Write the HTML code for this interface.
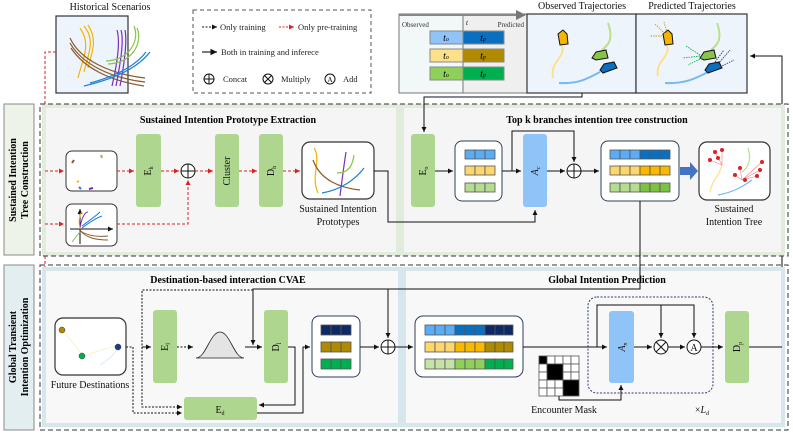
<!DOCTYPE html>
<html><head><meta charset="utf-8"><style>
html,body{margin:0;padding:0;background:#fff;}
svg{display:block;font-family:"Liberation Serif",serif;}
.t{font-size:10px;fill:#111;}
.b{font-weight:bold;font-size:10px;}
.s{font-size:8.5px;fill:#222;}
</style></head><body>
<svg width="793" height="435" viewBox="0 0 793 435" xmlns="http://www.w3.org/2000/svg">
<defs>
<marker id="a" markerWidth="6" markerHeight="6" refX="5" refY="3" orient="auto"><path d="M0,0.5 L5,3 L0,5.5z" fill="#111"/></marker>
<marker id="r" markerWidth="6" markerHeight="6" refX="5" refY="3" orient="auto"><path d="M0,0.5 L5,3 L0,5.5z" fill="#e02020"/></marker>
<marker id="g" markerWidth="6" markerHeight="6" refX="3" refY="3" orient="auto"><path d="M0,0.5 L5,3 L0,5.5z" fill="#777"/></marker>
</defs>

<!-- Historical Scenarios -->
<text x="110" y="10" class="t" text-anchor="middle">Historical Scenarios</text>
<rect x="56" y="16" width="72" height="77" fill="#eef4fc" stroke="#333" stroke-width="1.2"/>
<g fill="none" stroke-width="1.2">
<path d="M78,78 C82,60 92,45 80,28" stroke="#f4b400"/><path d="M84,72 C88,55 96,40 84,26" stroke="#f4b400"/><path d="M88,68 C92,52 98,40 88,25" stroke="#f4b400"/>
<path d="M70,38 C80,60 110,74 145,78" stroke="#8a5a2b"/><path d="M70,43 C82,64 110,78 145,82" stroke="#8a5a2b"/><path d="M71,48 C84,68 110,81 144,86" stroke="#8a5a2b"/>
<path d="M112,86 C118,60 120,40 117,30" stroke="#7b2fbf"/><path d="M116,86 C121,60 124,40 121,30" stroke="#7b2fbf"/><path d="M120,86 C125,60 127,40 125,30" stroke="#7b2fbf"/>
<path d="M134,26 C140,40 130,60 106,61" stroke="#8bc34a"/><path d="M137,28 C143,42 133,63 108,64" stroke="#8bc34a"/>
<path d="M84,86 C110,80 136,70 150,52" stroke="#1e7fd6"/><path d="M90,83 C112,77 134,68 146,52" stroke="#1e7fd6"/>
</g>
<path d="M56,52 H45 V346 H52" fill="none" stroke="#e02020" stroke-dasharray="3,2" marker-end="url(#r)"/>

<!-- Legend -->
<rect x="193" y="10" width="178" height="83" fill="#fff" stroke="#555" stroke-dasharray="4,3"/>
<line x1="202" y1="27" x2="217" y2="27" stroke="#111" stroke-dasharray="2,1.5" marker-end="url(#a)"/>
<text x="220" y="30" class="s">Only training</text>
<line x1="279" y1="27" x2="294" y2="27" stroke="#e02020" stroke-dasharray="2,1.5" marker-end="url(#r)"/>
<text x="298" y="30" class="s">Only pre-training</text>
<line x1="202" y1="52" x2="217" y2="52" stroke="#333" stroke-width="1.3" marker-end="url(#a)"/>
<text x="221" y="55" class="s">Both in training and inferece</text>
<g fill="none" stroke="#111"><circle cx="209" cy="79" r="5"/><path d="M204,79h10M209,74v10"/>
<circle cx="268" cy="79" r="5"/><path d="M264.5,75.5l7,7M271.5,75.5l-7,7"/><circle cx="330" cy="79" r="5"/></g>
<text x="330" y="82" font-size="7" text-anchor="middle">A</text>
<text x="223" y="82" class="s">Concat</text><text x="281" y="82" class="s">Multiply</text><text x="343" y="82" class="s">Add</text>

<!-- timeline -->
<rect x="399" y="14" width="64" height="79" fill="#f2f7f7" stroke="#777"/>
<rect x="463" y="14" width="64" height="79" fill="#efefef" stroke="#777"/>
<line x1="399" y1="15" x2="522" y2="15" stroke="#888" stroke-width="2" marker-end="url(#g)"/>
<text x="402" y="27" font-size="7" fill="#333">Observed</text><text x="466" y="25" font-size="7" font-style="italic">t</text><text x="524" y="27" font-size="7" text-anchor="end" fill="#333">Predicted</text>
<g stroke="#888">
<rect x="430" y="31" width="33" height="13" fill="#90c4f8"/><rect x="463" y="31" width="41" height="13" fill="#0b6fc0"/>
<rect x="430" y="49" width="33" height="13" fill="#fde08a"/><rect x="463" y="49" width="41" height="13" fill="#b08a00"/>
<rect x="430" y="67" width="33" height="13" fill="#8fd05a"/><rect x="463" y="67" width="41" height="13" fill="#00b050"/>
</g>
<g font-size="10" font-style="italic" text-anchor="middle"><text x="446" y="41">t<tspan font-size="6">o</tspan></text><text x="483" y="41">t<tspan font-size="6">p</tspan></text><text x="446" y="59">t<tspan font-size="6">o</tspan></text><text x="483" y="59">t<tspan font-size="6">p</tspan></text><text x="446" y="77">t<tspan font-size="6">o</tspan></text><text x="483" y="77">t<tspan font-size="6">p</tspan></text></g>

<!-- Observed / Predicted -->
<text x="582" y="9" class="t" text-anchor="middle">Observed Trajectories</text>
<text x="692" y="9" class="t" text-anchor="middle">Predicted Trajectories</text>
<rect x="527" y="14" width="109" height="79" fill="#eef4fc" stroke="#333" stroke-width="1.2"/>
<rect x="636" y="14" width="111" height="79" fill="#eef4fc" stroke="#333" stroke-width="1.2"/>
<g fill="none" stroke-width="2">
<path d="M553,78 C550,60 566,58 562,45" stroke="#fde08a"/><path d="M608,23 C614,40 608,45 602,50" stroke="#b9e08a"/><path d="M559,83 C580,84 588,78 600,72" stroke="#74b9f5"/>
<path d="M658,76 C655,60 671,58 667,45" stroke="#fde08a"/><path d="M717,23 C723,40 717,45 711,50" stroke="#b9e08a"/><path d="M665,83 C686,84 696,78 708,72" stroke="#74b9f5"/>
</g>
<g stroke="#111" stroke-width="1">
<path d="M558,34 l5,-4 l4,4 l1,10 l-8,1z" fill="#f4b400"/><path d="M592,58 l4,-6 l10,-2 l2,8 l-12,2z" fill="#8bc34a"/><path d="M600,70 l4,-6 l10,-2 l3,6 l-14,5z" fill="#0b6fc0"/>
<path d="M663,34 l5,-4 l4,4 l1,10 l-8,1z" fill="#f4b400"/><path d="M700,58 l4,-6 l10,-2 l2,8 l-12,2z" fill="#8bc34a"/><path d="M705,70 l4,-6 l10,-2 l3,6 l-14,5z" fill="#0b6fc0"/>
</g>
<g fill="none" stroke-dasharray="1.5,1" stroke-width="0.9">
<path d="M665,34 L655,24 M667,33 L664,22 M662,36 L650,36" stroke="#c8961e"/>
<path d="M700,55 L686,46 M700,56 L683,58 M702,58 L688,65" stroke="#00b050"/>
<path d="M715,62 L724,50 M718,64 L730,50 M720,67 L734,60" stroke="#1e3a8a"/>
</g>
<path d="M782,346 V56 H750" fill="none" stroke="#111" marker-end="url(#a)"/>

<!-- Section 1 -->
<rect x="4" y="104" width="30" height="151" fill="#eef3ea" stroke="#888"/>
<text transform="translate(16,180) rotate(-90)" class="b" text-anchor="middle">Sustained Intention</text>
<text transform="translate(28,180) rotate(-90)" class="b" text-anchor="middle">Tree Construction</text>
<rect x="44" y="106" width="354" height="148" fill="#f5f5f5" stroke="#e2ecdc" stroke-width="4"/>
<rect x="402" y="106" width="381" height="148" fill="#f5f5f5" stroke="#e2ecdc" stroke-width="4"/>
<rect x="40" y="104" width="748" height="152" fill="none" stroke="#333" stroke-dasharray="5,3"/>
<text x="228" y="123" class="b" text-anchor="middle">Sustained Intention Prototype Extraction</text>
<text x="597" y="123" class="b" text-anchor="middle">Top k branches intention tree construction</text>

<rect x="66" y="151" width="51" height="40" rx="6" fill="#fff" stroke="#333"/>
<g stroke-width="2" fill="none"><path d="M72,163 l2,-3" stroke="#8a5a2b"/><path d="M101,155 l1,3" stroke="#8bc34a"/><path d="M77,182 l2,-1" stroke="#f4b400"/><path d="M79,187 l2,2" stroke="#1e7fd6"/><path d="M89,189 l4,-1" stroke="#7b2fbf"/></g>
<rect x="66" y="204" width="51" height="42" rx="6" fill="#fff" stroke="#333"/>
<g fill="none" stroke-width="1"><path d="M80,244 V209" stroke="#111" marker-end="url(#a)"/><path d="M70,229 H113" stroke="#111" marker-end="url(#a)"/>
<path d="M80,228 C82,215 86,212 88,212" stroke="#7b2fbf"/><path d="M80,229 C78,220 80,214 82,212" stroke="#f4b400"/><path d="M82,228 C90,222 96,218 102,216" stroke="#1e7fd6"/><path d="M82,226 C90,220 96,216 100,212" stroke="#1e7fd6"/><path d="M80,230 C86,238 96,240 108,240" stroke="#8a5a2b"/><path d="M80,231 C88,236 98,237 108,236" stroke="#8a5a2b"/><path d="M80,232 C76,236 74,240 72,242" stroke="#8bc34a"/></g>

<g fill="#aed68e"><rect x="136" y="134" width="25" height="73" rx="3"/><rect x="215" y="134" width="24" height="73" rx="3"/><rect x="259" y="134" width="24" height="73" rx="3"/><rect x="411" y="134" width="24" height="73" rx="3"/></g>
<text transform="translate(151,171) rotate(-90)" class="t" text-anchor="middle">E<tspan font-size="6" dy="2">h</tspan></text>
<text transform="translate(230,171) rotate(-90)" class="t" text-anchor="middle">Cluster</text>
<text transform="translate(274,171) rotate(-90)" class="t" text-anchor="middle">D<tspan font-size="6" dy="2">h</tspan></text>
<text transform="translate(426,171) rotate(-90)" class="t" text-anchor="middle">E<tspan font-size="6" dy="2">o</tspan></text>
<g fill="#fff" stroke="#111"><circle cx="188" cy="171" r="7"/><path d="M181,171h14M188,164v14"/></g>

<rect x="302" y="142" width="72" height="57" rx="8" fill="#fff" stroke="#333" stroke-width="1.2"/>
<g fill="none" stroke-width="1.2"><path d="M318,193 C310,175 322,160 314,148" stroke="#f4b400"/><path d="M313,160 C320,180 340,188 360,190" stroke="#8a5a2b"/><path d="M340,196 C342,180 344,165 346,152" stroke="#7b2fbf"/><path d="M354,155 C352,170 345,173 337,173" stroke="#8bc34a"/><path d="M322,193 C340,190 355,180 364,168" stroke="#1e7fd6"/></g>
<text x="338" y="212" class="t" text-anchor="middle">Sustained Intention</text>
<text x="338" y="225" class="t" text-anchor="middle">Prototypes</text>

<g fill="none" stroke="#e02020" stroke-dasharray="3,2" marker-end="url(#r)">
<path d="M45,171H64"/><path d="M117,171H134"/><path d="M161,171H179"/><path d="M195,171H213"/><path d="M239,171H257"/><path d="M283,171H300"/>
<path d="M45,224H64"/><path d="M117,224H188V180"/>
</g>
<path d="M374,171H388V222H535V210" fill="none" stroke="#111" marker-end="url(#a)"/>
<path d="M582,93V97H424V132" fill="none" stroke="#111" marker-end="url(#a)"/>

<rect x="455" y="141" width="47" height="60" rx="7" fill="#fff" stroke="#2f3e5a"/>
<g stroke="#555" stroke-width="0.8">
<g fill="#5aadf5"><rect x="465" y="150" width="10" height="9"/><rect x="475" y="150" width="10" height="9"/><rect x="485" y="150" width="10" height="9"/></g>
<g fill="#fdd76e"><rect x="465" y="166" width="10" height="9"/><rect x="475" y="166" width="10" height="9"/><rect x="485" y="166" width="10" height="9"/></g>
<g fill="#b5dc8f"><rect x="465" y="183" width="10" height="9"/><rect x="475" y="183" width="10" height="9"/><rect x="485" y="183" width="10" height="9"/></g>
</g>
<path d="M435,171H453" stroke="#111" marker-end="url(#a)"/>
<path d="M502,171H521" stroke="#111" marker-end="url(#a)"/>
<path d="M512,171V131H574V162" fill="none" stroke="#111" marker-end="url(#a)"/>
<rect x="523" y="134" width="24" height="73" rx="3" fill="#90c4f8"/>
<text transform="translate(538,171) rotate(-90)" class="t" text-anchor="middle" font-style="italic">A<tspan font-size="6" dy="2">c</tspan></text>
<path d="M547,171H565" stroke="#111" marker-end="url(#a)"/>
<g fill="#fff" stroke="#111"><circle cx="574" cy="171" r="7"/><path d="M567,171h14M574,164v14"/></g>
<path d="M581,171H599" stroke="#111" marker-end="url(#a)"/>
<rect x="601" y="141" width="78" height="60" rx="7" fill="#fff" stroke="#2f3e5a"/>
<g stroke="#555" stroke-width="0.8">
<g fill="#5aadf5"><rect x="610" y="150" width="10" height="9"/><rect x="620" y="150" width="10" height="9"/><rect x="630" y="150" width="10" height="9"/></g>
<g fill="#0b6fc0"><rect x="640" y="150" width="10" height="9"/><rect x="650" y="150" width="10" height="9"/><rect x="660" y="150" width="10" height="9"/></g>
<g fill="#fdd76e"><rect x="610" y="166" width="10" height="9"/><rect x="620" y="166" width="10" height="9"/><rect x="630" y="166" width="10" height="9"/></g>
<g fill="#fbb800"><rect x="640" y="166" width="10" height="9"/><rect x="650" y="166" width="10" height="9"/><rect x="660" y="166" width="10" height="9"/></g>
<g fill="#b5dc8f"><rect x="610" y="183" width="10" height="9"/><rect x="620" y="183" width="10" height="9"/><rect x="630" y="183" width="10" height="9"/></g>
<g fill="#7cc243"><rect x="640" y="183" width="10" height="9"/><rect x="650" y="183" width="10" height="9"/><rect x="660" y="183" width="10" height="9"/></g>
</g>
<path d="M680,167H690V162L698,171L690,180V175H680Z" fill="#4472c4"/>
<rect x="699" y="142" width="71" height="58" rx="8" fill="#fff" stroke="#333" stroke-width="1.2"/>
<g fill="none" stroke-width="1.2"><path d="M710,192 C712,180 720,175 722,165" stroke="#fde08a"/><path d="M748,148 C752,160 748,168 742,172" stroke="#b9e08a"/><path d="M718,195 C735,192 745,185 752,180" stroke="#74b9f5"/></g>
<g stroke="#f08080" stroke-width="0.6" fill="none"><path d="M722,165 L715,152 M722,165 L722,150 M722,165 L710,160 M742,180 L740,168 M742,180 L760,170 M742,180 L757,176 M742,180 L762,162 M742,180 L735,175"/></g>
<g fill="#e02020"><circle cx="715" cy="152" r="2"/><circle cx="722" cy="150" r="2"/><circle cx="710" cy="160" r="2"/><circle cx="718" cy="158" r="2"/><circle cx="740" cy="168" r="2"/><circle cx="760" cy="170" r="2"/><circle cx="757" cy="176" r="2"/><circle cx="745" cy="180" r="2"/><circle cx="735" cy="175" r="2"/><circle cx="762" cy="162" r="2"/></g>
<text x="734" y="212" class="t" text-anchor="middle">Sustained</text>
<text x="734" y="225" class="t" text-anchor="middle">Intention Tree</text>

<!-- Section 2 -->
<rect x="4" y="265" width="30" height="165" fill="#e3eef1" stroke="#888"/>
<text transform="translate(16,347) rotate(-90)" class="b" text-anchor="middle">Global Transient</text>
<text transform="translate(28,347) rotate(-90)" class="b" text-anchor="middle">Intention Optimization</text>
<rect x="44" y="269" width="356" height="156" fill="#f8f8f8" stroke="#d6e7ec" stroke-width="4"/>
<rect x="404" y="269" width="379" height="156" fill="#f8f8f8" stroke="#d6e7ec" stroke-width="4"/>
<rect x="40" y="265" width="748" height="165" fill="none" stroke="#333" stroke-dasharray="5,3"/>
<text x="228" y="283" class="b" text-anchor="middle">Destination-based interaction CVAE</text>
<text x="607" y="283" class="b" text-anchor="middle">Global Intention Prediction</text>

<path d="M640,201V289H253V345" fill="none" stroke="#111" marker-end="url(#a)"/>
<path d="M388,289V338" fill="none" stroke="#111" marker-end="url(#a)"/>
<path d="M253,290H142V407H182" fill="none" stroke="#111" stroke-dasharray="2,1.5" marker-end="url(#a)"/>
<path d="M142,347H151" stroke="#111" marker-end="url(#a)"/>

<rect x="55" y="318" width="71" height="57" rx="8" fill="#fff" stroke="#333" stroke-width="1.2"/>
<g fill="none" stroke-width="0.6"><path d="M63,330 C70,340 75,345 82,355" stroke="#f5e6b0"/><path d="M84,356 C95,352 105,348 116,347" stroke="#f5e6b0"/><path d="M100,365 C108,360 114,355 117,349" stroke="#c0dcf5"/></g>
<circle cx="62" cy="330" r="3" fill="#b08a00" stroke="#333" stroke-width="0.5"/><circle cx="82" cy="356" r="3" fill="#00b050" stroke="#333" stroke-width="0.5"/><circle cx="118" cy="347" r="3" fill="#1e3a8a" stroke="#333" stroke-width="0.5"/>
<text x="90" y="388" class="t" text-anchor="middle">Future Destinations</text>
<path d="M126,347H133V413H182" fill="none" stroke="#111" stroke-dasharray="2,1.5" marker-end="url(#a)"/>

<g fill="#aed68e"><rect x="153" y="310" width="24" height="73" rx="3"/><rect x="264" y="310" width="24" height="73" rx="3"/><rect x="184" y="397" width="73" height="23" rx="3"/><rect x="725" y="311" width="24" height="72" rx="3"/></g>
<text transform="translate(168,347) rotate(-90)" class="t" text-anchor="middle">E<tspan font-size="6" dy="2">l</tspan></text>
<text transform="translate(279,347) rotate(-90)" class="t" text-anchor="middle">D<tspan font-size="6" dy="2">l</tspan></text>
<text x="220" y="413" class="t" text-anchor="middle">E<tspan font-size="6" dy="2">d</tspan></text>
<text transform="translate(740,347) rotate(-90)" class="t" text-anchor="middle">D<tspan font-size="6" dy="2">p</tspan></text>

<path d="M177,347H193" stroke="#111" stroke-dasharray="2,1.5" marker-end="url(#a)"/>
<path d="M196,358 C206,358 210,332 220,332 C230,332 234,358 244,358Z" fill="#e4e4e4" stroke="#222" stroke-width="0.8"/>
<path d="M245,347H262" stroke="#111" marker-end="url(#a)"/>
<path d="M288,347H295V405H259" fill="none" stroke="#111" marker-end="url(#a)"/>
<path d="M257,413H303V347H310" fill="none" stroke="#111" marker-end="url(#a)"/>

<rect x="312" y="316" width="48" height="61" rx="7" fill="#fff" stroke="#2f3e5a"/>
<g stroke="#555" stroke-width="0.8">
<g fill="#0d2a66"><rect x="321" y="325" width="10" height="10"/><rect x="331" y="325" width="10" height="10"/><rect x="341" y="325" width="10" height="10"/></g>
<g fill="#b08a00"><rect x="321" y="342" width="10" height="10"/><rect x="331" y="342" width="10" height="10"/><rect x="341" y="342" width="10" height="10"/></g>
<g fill="#00b050"><rect x="321" y="359" width="10" height="10"/><rect x="331" y="359" width="10" height="10"/><rect x="341" y="359" width="10" height="10"/></g>
</g>
<path d="M360,347H379" stroke="#111" marker-end="url(#a)"/>
<g fill="#fff" stroke="#111"><circle cx="388" cy="347" r="7"/><path d="M381,347h14M388,340v14"/></g>
<path d="M395,347H413" stroke="#111" marker-end="url(#a)"/>

<rect x="415" y="316" width="108" height="61" rx="8" fill="#fff" stroke="#2f3e5a"/>
<g stroke="#555" stroke-width="0.8">
<g fill="#5aadf5"><rect x="425" y="325" width="10" height="10"/><rect x="435" y="325" width="10" height="10"/><rect x="445" y="325" width="10" height="10"/></g>
<g fill="#0b6fc0"><rect x="455" y="325" width="10" height="10"/><rect x="465" y="325" width="10" height="10"/><rect x="475" y="325" width="10" height="10"/></g>
<g fill="#0d2a66"><rect x="485" y="325" width="10" height="10"/><rect x="495" y="325" width="9" height="10"/><rect x="504" y="325" width="9" height="10"/></g>
<g fill="#fdd76e"><rect x="425" y="342" width="10" height="10"/><rect x="435" y="342" width="10" height="10"/><rect x="445" y="342" width="10" height="10"/></g>
<g fill="#fbb800"><rect x="455" y="342" width="10" height="10"/><rect x="465" y="342" width="10" height="10"/><rect x="475" y="342" width="10" height="10"/></g>
<g fill="#b08a00"><rect x="485" y="342" width="10" height="10"/><rect x="495" y="342" width="9" height="10"/><rect x="504" y="342" width="9" height="10"/></g>
<g fill="#c6e3a6"><rect x="425" y="359" width="10" height="10"/><rect x="435" y="359" width="10" height="10"/><rect x="445" y="359" width="10" height="10"/></g>
<g fill="#8fd05a"><rect x="455" y="359" width="10" height="10"/><rect x="465" y="359" width="10" height="10"/><rect x="475" y="359" width="10" height="10"/></g>
<g fill="#00b050"><rect x="485" y="359" width="10" height="10"/><rect x="495" y="359" width="9" height="10"/><rect x="504" y="359" width="9" height="10"/></g>
</g>

<rect x="588" y="297" width="125" height="96" rx="9" fill="none" stroke="#2f3e7a" stroke-dasharray="2,1.5"/>
<path d="M523,347H607" stroke="#111" marker-end="url(#a)"/>
<path d="M597,347V305H694V338" fill="none" stroke="#111" marker-end="url(#a)"/>
<path d="M661,305V338" stroke="#111" marker-end="url(#a)"/>
<rect x="609" y="311" width="25" height="72" rx="3" fill="#90c4f8"/>
<text transform="translate(625,347) rotate(-90)" class="t" text-anchor="middle" font-style="italic">A<tspan font-size="6" dy="2">n</tspan></text>
<path d="M634,347H652" stroke="#111" marker-end="url(#a)"/>
<g fill="#fff" stroke="#111"><circle cx="661" cy="347" r="7"/><path d="M656,342l10,10M666,342l-10,10"/></g>
<path d="M668,347H685" stroke="#111" marker-end="url(#a)"/>
<circle cx="694" cy="347" r="7" fill="#fff" stroke="#111"/>
<text x="694" y="351" font-size="10" text-anchor="middle">A</text>
<path d="M701,347H723" stroke="#111" marker-end="url(#a)"/>
<path d="M749,347H782" stroke="#111"/>

<!-- Encounter mask -->
<g stroke="#555" stroke-width="0.8">
<rect x="539" y="356" width="8" height="8" fill="#000"/><rect x="547" y="356" width="8" height="8" fill="#fff"/><rect x="555" y="356" width="8" height="8" fill="#fff"/><rect x="563" y="356" width="8" height="8" fill="#fff"/><rect x="571" y="356" width="8" height="8" fill="#fff"/>
<rect x="539" y="364" width="8" height="8" fill="#fff"/><rect x="547" y="364" width="16" height="16" fill="#000"/><rect x="563" y="364" width="8" height="8" fill="#fff"/><rect x="571" y="364" width="8" height="8" fill="#fff"/>
<rect x="539" y="372" width="8" height="8" fill="#fff"/><rect x="563" y="372" width="8" height="8" fill="#fff"/><rect x="571" y="372" width="8" height="8" fill="#fff"/>
<rect x="539" y="380" width="8" height="8" fill="#fff"/><rect x="547" y="380" width="8" height="8" fill="#fff"/><rect x="555" y="380" width="8" height="8" fill="#fff"/><rect x="563" y="380" width="16" height="16" fill="#000"/>
<rect x="539" y="388" width="8" height="8" fill="#fff"/><rect x="547" y="388" width="8" height="8" fill="#fff"/><rect x="555" y="388" width="8" height="8" fill="#fff"/>
</g>
<path d="M559,396V400H621V385" fill="none" stroke="#111" marker-end="url(#a)"/>
<text x="564" y="413" class="t" text-anchor="middle">Encounter Mask</text>
<text x="702" y="413" class="t" text-anchor="middle">×<tspan font-style="italic">L</tspan><tspan font-size="6" dy="2" font-style="italic">d</tspan></text>
</svg>
</body></html>
